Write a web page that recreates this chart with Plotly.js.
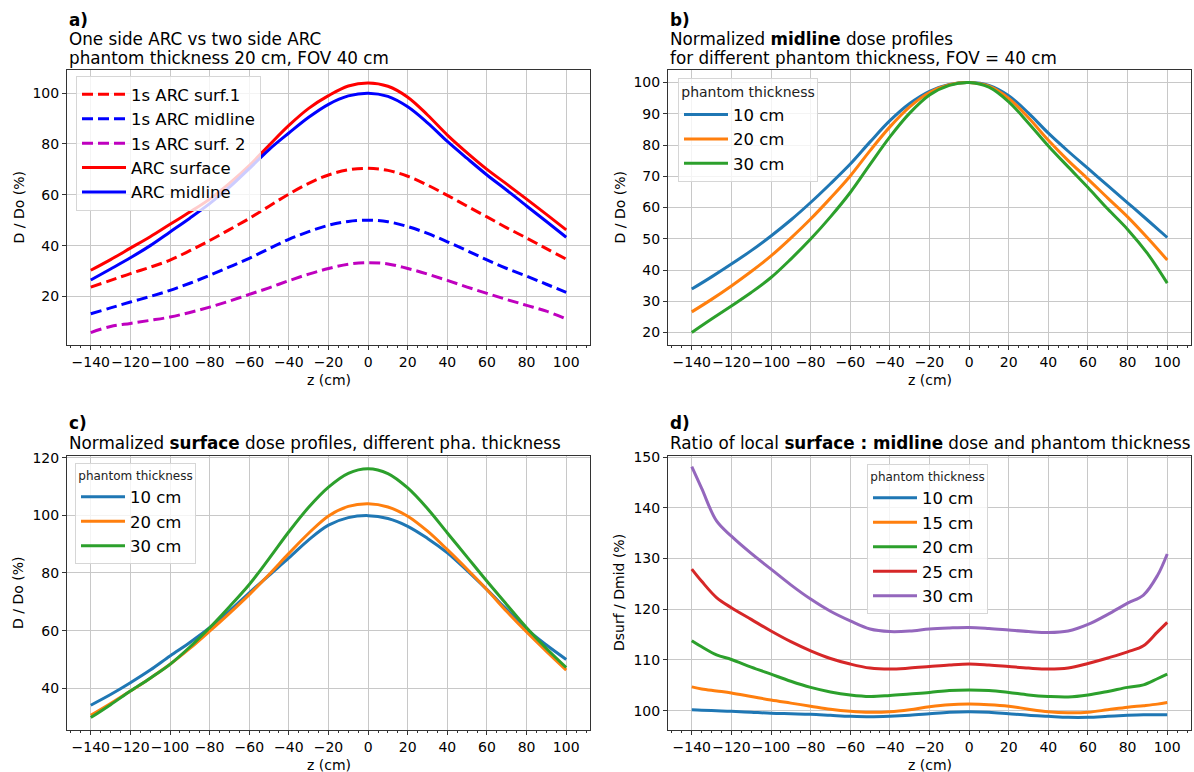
<!DOCTYPE html>
<html>
<head>
<meta charset="utf-8">
<script src="https://cdn.plot.ly/plotly-3.0.1.min.js"></script>
<style>html,body{margin:0;padding:0;background:#fff;}#chart{width:1194px;height:772px;}</style>
</head>
<body>
<div id="chart"></div>
<script>
// ---------- Panel a: one side ARC vs two side ARC ----------
const zA = [-140,-130,-120,-110,-100,-90,-80,-70,-60,-50,-40,-30,-20,-10,0,10,20,30,40,50,60,70,80,90,100];
const arcSurface   = [30.3,34.5,39.0,43.5,48.4,53.2,58.3,64.5,71.5,79.5,87.3,94.0,99.0,102.8,104.0,102.7,98.4,91.4,83.5,76.5,70.0,64.2,58.3,52.3,46.2];
const arcMidline   = [26.5,30.8,35.2,40.0,45.4,50.8,56.5,63.0,70.3,77.8,84.3,90.5,95.6,98.9,100.0,98.7,94.6,88.3,81.0,74.3,67.8,61.8,55.6,49.5,43.3];
const oneSurf1     = [23.7,26.3,29.0,31.5,34.3,38.0,42.0,46.3,50.7,55.5,60.3,64.5,67.8,69.8,70.4,69.6,67.3,63.8,59.8,55.5,51.3,47.0,43.0,38.8,34.7];
const oneMidline   = [13.2,15.5,17.8,20.0,22.4,25.2,28.3,31.6,35.0,38.8,42.5,45.5,48.0,49.5,50.0,49.4,47.5,44.8,41.5,38.0,34.4,31.0,28.0,24.8,21.6];
const oneSurf2     = [5.8,8.2,9.4,10.6,11.9,13.7,15.8,18.2,20.8,23.4,26.2,28.8,31.0,32.7,33.3,32.8,31.0,28.8,26.3,23.7,21.2,18.8,16.5,14.2,11.2];
const namesA = ['1s ARC surf.1','1s ARC midline','1s ARC surf. 2','ARC surface','ARC midline'];

// ---------- Panel b: normalized midline dose profiles ----------
const zB = [-140,-130,-120,-110,-100,-90,-80,-70,-60,-50,-40,-30,-20,-10,0,10,20,30,40,50,60,70,80,90,100];
const mid10 = [33.9,37.8,41.9,46.2,50.9,56.0,61.6,67.6,73.9,81.0,87.8,93.3,97.2,99.4,100.0,99.1,95.8,90.2,83.8,78.0,72.5,67.0,61.5,56.0,50.4];
const mid20 = [26.6,30.6,34.9,39.5,44.5,50.2,56.3,63.0,70.1,78.2,85.8,92.2,96.8,99.3,100.0,98.8,94.9,88.7,81.5,75.0,69.1,63.0,57.0,50.3,43.2];
const mid30 = [20.0,24.3,28.5,32.8,37.6,43.5,49.9,57.0,64.8,73.8,82.6,90.2,96.0,99.1,100.0,98.5,93.8,87.0,79.7,73.0,66.4,59.5,53.0,45.3,35.8];

// ---------- Panel c: normalized surface dose profiles ----------
const zC = [-140,-130,-120,-110,-100,-90,-80,-70,-60,-50,-40,-30,-20,-10,0,10,20,30,40,50,60,70,80,90,100];
const surf10 = [34.1,37.8,41.9,46.3,51.2,55.9,61.0,66.8,73.1,79.2,85.2,91.5,96.6,99.2,99.9,98.9,96.2,92.0,87.0,80.8,74.2,67.3,60.5,55.0,50.0];
const surf20 = [30.6,34.7,39.0,43.5,48.3,53.8,59.8,66.0,72.5,79.5,86.8,93.8,99.8,103.1,104.0,102.9,99.7,94.5,88.1,81.3,74.2,66.6,59.5,52.8,46.3];
const surf30 = [29.8,34.3,39.0,43.5,48.3,54.3,61.0,68.3,76.0,85.0,94.3,102.8,109.8,114.6,116.2,114.5,109.5,102.3,93.9,85.5,77.1,69.0,61.0,53.8,47.2];
const thickBC = ['10 cm','20 cm','30 cm'];

// ---------- Panel d: ratio surface : midline ----------
const zD = [-140,-135,-127.5,-120,-110,-100,-90,-80,-70,-60,-50,-40,-30,-20,-10,0,10,20,30,40,50,60,70,80,88,95,100];
const ratio10 = [100.2,100.1,100.0,99.9,99.7,99.5,99.4,99.3,99.1,98.9,98.8,98.9,99.1,99.4,99.7,99.8,99.7,99.4,99.1,98.9,98.7,98.7,98.9,99.1,99.2,99.2,99.2];
const ratio15 = [104.7,104.3,103.9,103.5,102.8,102.1,101.5,100.9,100.3,99.9,99.7,99.8,100.2,100.8,101.2,101.3,101.2,100.9,100.3,99.8,99.6,99.7,100.2,100.7,101.0,101.3,101.6];
const ratio20 = [113.8,112.6,111.0,110.1,108.6,107.2,105.8,104.6,103.7,103.1,102.8,103.0,103.3,103.6,104.0,104.1,104.0,103.6,103.1,102.8,102.7,103.1,103.8,104.6,105.1,106.3,107.2];
const ratio25 = [127.9,125.5,122.3,120.3,118.0,115.7,113.6,111.8,110.3,109.2,108.4,108.2,108.4,108.7,109.0,109.2,109.0,108.7,108.4,108.2,108.4,109.3,110.4,111.6,112.8,115.5,117.4];
const ratio30 = [148.1,143.8,137.4,134.4,131.0,127.9,124.8,122.0,119.6,117.7,116.1,115.6,115.7,116.1,116.3,116.4,116.2,115.9,115.6,115.4,115.7,117.0,119.0,121.2,122.8,126.6,130.9];
const thickD = ['10 cm','15 cm','20 cm','25 cm','30 cm'];

// ---------- styling ----------
const FONT = 'DejaVu Sans, Verdana, sans-serif';
const tab10 = ['#1f77b4','#ff7f0e','#2ca02c','#d62728','#9467bd'];
const LW = 3;
const W = 1194, H = 772;
const px = v => v / W;
const py = v => 1 - v / H;

function tr(x, y, name, color, dash, xa, ya, leg) {
  return {
    x: x, y: y, name: name, type: 'scatter', mode: 'lines',
    line: {color: color, width: LW, dash: dash || 'solid', shape: 'spline', smoothing: 1},
    xaxis: xa, yaxis: ya, legend: leg, hoverinfo: 'skip'
  };
}
const DASH = '11px,5px';
const data = [
  tr(zA, oneSurf1, namesA[0], '#ff0000', DASH, 'x', 'y', 'legend'),
  tr(zA, oneMidline, namesA[1], '#0000ff', DASH, 'x', 'y', 'legend'),
  tr(zA, oneSurf2, namesA[2], '#bf00bf', DASH, 'x', 'y', 'legend'),
  tr(zA, arcSurface, namesA[3], '#ff0000', 'solid', 'x', 'y', 'legend'),
  tr(zA, arcMidline, namesA[4], '#0000ff', 'solid', 'x', 'y', 'legend'),

  tr(zB, mid10, thickBC[0], tab10[0], 'solid', 'x2', 'y2', 'legend2'),
  tr(zB, mid20, thickBC[1], tab10[1], 'solid', 'x2', 'y2', 'legend2'),
  tr(zB, mid30, thickBC[2], tab10[2], 'solid', 'x2', 'y2', 'legend2'),

  tr(zC, surf10, thickBC[0], tab10[0], 'solid', 'x3', 'y3', 'legend3'),
  tr(zC, surf20, thickBC[1], tab10[1], 'solid', 'x3', 'y3', 'legend3'),
  tr(zC, surf30, thickBC[2], tab10[2], 'solid', 'x3', 'y3', 'legend3'),

  tr(zD, ratio10, thickD[0], tab10[0], 'solid', 'x4', 'y4', 'legend4'),
  tr(zD, ratio15, thickD[1], tab10[1], 'solid', 'x4', 'y4', 'legend4'),
  tr(zD, ratio20, thickD[2], tab10[2], 'solid', 'x4', 'y4', 'legend4'),
  tr(zD, ratio25, thickD[3], tab10[3], 'solid', 'x4', 'y4', 'legend4'),
  tr(zD, ratio30, thickD[4], tab10[4], 'solid', 'x4', 'y4', 'legend4')
];

const LEFT_X = [px(67), px(590)], RIGHT_X = [px(668), px(1191)];
const TOP_Y = [py(345), py(70)], BOT_Y = [py(730), py(456)];
const AXC = '#333333', GRID = '#c8c8c8';

function xax(domain, anchor) {
  return {
    domain: domain, anchor: anchor, range: [-152, 112],
    tick0: 0, dtick: 20, tickangle: 0, ticks: 'outside', ticklen: 4, tickwidth: 1, tickcolor: AXC,
    showline: true, mirror: true, linecolor: AXC, linewidth: 1,
    showgrid: true, gridcolor: GRID, gridwidth: 1, zeroline: false,
    tickfont: {family: FONT, size: 14, color: '#000'},
    minor: {tick0: 0, dtick: 5, ticks: 'outside', ticklen: 2, tickwidth: 1, tickcolor: AXC, showgrid: false},
    fixedrange: true
  };
}
function yax(domain, anchor, range, dtick) {
  return {
    domain: domain, anchor: anchor, range: range,
    tick0: 0, dtick: dtick, ticks: 'outside', ticklen: 4, tickwidth: 1, tickcolor: AXC,
    showline: true, mirror: true, linecolor: AXC, linewidth: 1,
    showgrid: true, gridcolor: GRID, gridwidth: 1, zeroline: false,
    tickfont: {family: FONT, size: 14, color: '#000'},
    fixedrange: true
  };
}
function legendBox(x, y, title, titleSize) {
  const l = {
    x: px(x), y: py(y), xanchor: 'left', yanchor: 'top',
    bgcolor: 'rgba(255,255,255,0.8)', bordercolor: '#d6d6d6', borderwidth: 1,
    itemwidth: 44,
    font: {family: FONT, size: 16.5, color: '#000'}
  };
  if (title) l.title = {text: title, font: {family: FONT, size: titleSize, color: '#222'}, side: 'top center'};
  return l;
}

function ann(text, x, y, opts) {
  return Object.assign({
    text: text, x: px(x), y: py(y), xref: 'paper', yref: 'paper',
    xanchor: 'left', yanchor: 'middle', showarrow: false,
    font: {family: FONT, size: 16.8, color: '#000'}
  }, opts || {});
}
const small = {family: FONT, size: 14, color: '#000'};
const annotations = [
  ann('<b>a)</b>', 67, 20),
  ann('One side ARC vs two side ARC', 67, 39),
  ann('phantom thickness 20 cm, FOV 40 cm', 67, 58),
  ann('<b>b)</b>', 668, 20),
  ann('Normalized <b>midline</b> dose profiles', 668, 39),
  ann('for different phantom thickness, FOV = 40 cm', 668, 58),
  ann('<b>c)</b>', 67, 423),
  ann('Normalized <b>surface</b> dose profiles, different pha. thickness', 67, 443),
  ann('<b>d)</b>', 668, 423),
  ann('Ratio of local <b>surface : midline</b> dose and phantom thickness', 668, 443),
  // axis titles
  ann('z (cm)', 328.5, 380, {xanchor: 'center', font: small}),
  ann('z (cm)', 929.5, 380, {xanchor: 'center', font: small}),
  ann('z (cm)', 328.5, 765, {xanchor: 'center', font: small}),
  ann('z (cm)', 929.5, 765, {xanchor: 'center', font: small}),
  ann('D / Do (%)', 18, 207.5, {xanchor: 'center', textangle: -90, font: small}),
  ann('D / Do (%)', 619, 207.5, {xanchor: 'center', textangle: -90, font: small}),
  ann('D / Do (%)', 18, 593, {xanchor: 'center', textangle: -90, font: small}),
  ann('Dsurf / Dmid (%)', 619, 593, {xanchor: 'center', textangle: -90, font: small})
];

const layout = {
  width: W, height: H, margin: {l: 0, r: 0, t: 0, b: 0},
  paper_bgcolor: '#ffffff', plot_bgcolor: '#ffffff',
  font: {family: FONT, color: '#000'},
  showlegend: true,
  xaxis: xax(LEFT_X, 'y'),
  yaxis: yax(TOP_Y, 'x', [0.9, 109.1], 20),
  xaxis2: xax(RIGHT_X, 'y2'),
  yaxis2: yax(TOP_Y, 'x2', [16, 104], 10),
  xaxis3: xax(LEFT_X, 'y3'),
  yaxis3: yax(BOT_Y, 'x3', [25.5, 120.6], 20),
  xaxis4: xax(RIGHT_X, 'y4'),
  yaxis4: yax(BOT_Y, 'x4', [96.2, 150.2], 10),
  legend: legendBox(76, 76),
  legend2: legendBox(678, 78, 'phantom thickness', 14),
  legend3: legendBox(75, 463, 'phantom thickness', 12),
  legend4: legendBox(867, 464, 'phantom thickness', 12),
  annotations: annotations
};

Plotly.newPlot('chart', data, layout, {staticPlot: true, displayModeBar: false});
</script>
</body>
</html>
